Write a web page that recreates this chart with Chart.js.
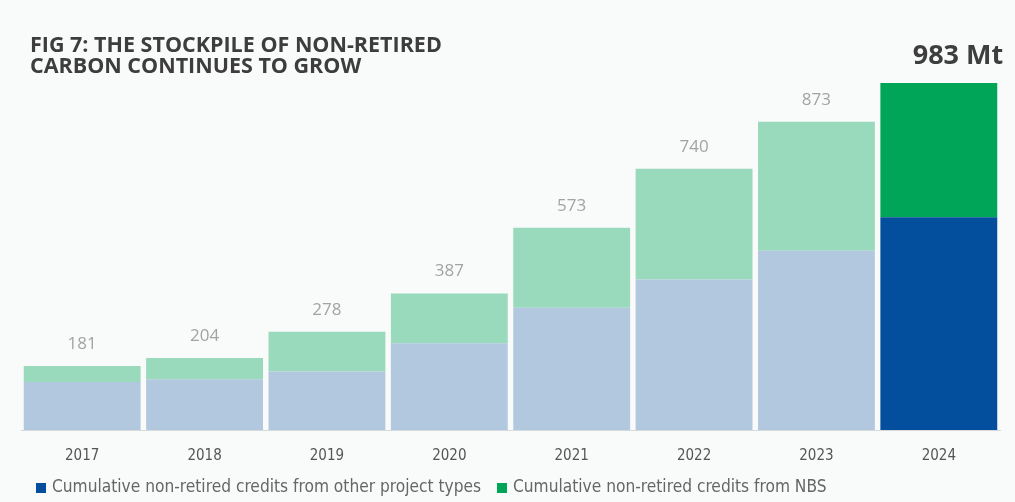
<!DOCTYPE html>
<html>
<head>
<meta charset="utf-8">
<script src="https://cdn.jsdelivr.net/npm/chart.js@4"></script>
<style>
  html, body { margin: 0; padding: 0; background: #f9fafa; }
  #wrap { width: 1015px; height: 502px; position: relative; }
</style>
</head>
<body>
<div id="wrap"><canvas id="myChart"></canvas></div>
<script>
var years = ['2017', '2018', '2019', '2020', '2021', '2022', '2023', '2024'];
var otherTypes = [136, 144, 166, 246, 346, 426, 508, 603];
var nbs = [45, 60, 112, 141, 227, 314, 365, 380];
var totals = [181, 204, 278, 387, 573, 740, 873, 983];
var titleLines = ['FIG 7: THE STOCKPILE OF NON-RETIRED', 'CARBON CONTINUES TO GROW'];
var legendNames = ['Cumulative non-retired credits from other project types', 'Cumulative non-retired credits from NBS'];

var lightBlue = '#b2c8df', darkBlue = '#044e9e';
var lightGreen = '#98dabb', darkGreen = '#00a557';
var condensed = '"Liberation Sans Narrow", "DejaVu Sans Condensed", sans-serif';

function colours(light, dark) {
    return years.map(function (y, i) { return i === years.length - 1 ? dark : light; });
}

var labelPlugin = {
    id: 'labels',
    afterDatasetsDraw: function (chart) {
        var c = chart.ctx;
        var meta = chart.getDatasetMeta(1);
        c.save();
        c.textAlign = 'center';
        c.textBaseline = 'middle';
        for (var i = 0; i < totals.length - 1; i++) {
            var bar = meta.data[i];
            c.fillStyle = '#a3a3a3';
            c.font = '17px "Open Sans", sans-serif';
            c.fillText(String(totals[i]), bar.x, bar.y - 22);
        }
        var last = meta.data[totals.length - 1];
        c.textAlign = 'right';
        c.fillStyle = '#3e3e3e';
        c.font = 'bold 27px "Open Sans", sans-serif';
        c.fillText(totals[totals.length - 1] + ' Mt', last.x + last.width / 2 + 6, last.y - 27);

        // title
        c.textAlign = 'left';
        c.textBaseline = 'alphabetic';
        c.fillStyle = '#3d3d3d';
        c.font = 'bold 21.5px "Open Sans", sans-serif';
        c.fillText(titleLines[0], 30, 52);
        c.fillText(titleLines[1], 30, 73);

        // legend
        c.textBaseline = 'middle';
        c.font = '17.2px ' + condensed;
        var lx = [36, 497];
        var lc = [darkBlue, darkGreen];
        for (var k = 0; k < legendNames.length; k++) {
            c.fillStyle = lc[k];
            c.fillRect(lx[k], 483, 10, 10);
            c.fillStyle = '#666666';
            c.fillText(legendNames[k], lx[k] + 16, 488);
        }
        c.restore();
    }
};

var ctx = document.getElementById('myChart').getContext('2d');
var myBarChart = new Chart(ctx, {
    type: 'bar',
    data: {
        labels: years,
        datasets: [
            {
                label: legendNames[0],
                data: otherTypes,
                backgroundColor: colours(lightBlue, darkBlue),
                borderWidth: 0
            },
            {
                label: legendNames[1],
                data: nbs,
                backgroundColor: colours(lightGreen, darkGreen),
                borderWidth: 0
            }
        ]
    },
    options: {
        responsive: true,
        maintainAspectRatio: false,
        animation: false,
        datasets: {
            bar: { categoryPercentage: 1, barPercentage: 0.955 }
        },
        layout: {
            padding: { left: 21, right: 15, top: 77, bottom: 20 }
        },
        scales: {
            x: {
                stacked: true,
                grid: { display: false, drawTicks: false },
                border: { color: '#d6dada', width: 1 },
                ticks: {
                    color: '#555555',
                    padding: 17,
                    font: { family: condensed, size: 15 }
                }
            },
            y: {
                stacked: true,
                display: false,
                min: 0,
                max: 1000
            }
        },
        plugins: {
            legend: { display: false },
            title: { display: false },
            tooltip: { enabled: false }
        }
    },
    plugins: [labelPlugin]
});
</script>
</body>
</html>
